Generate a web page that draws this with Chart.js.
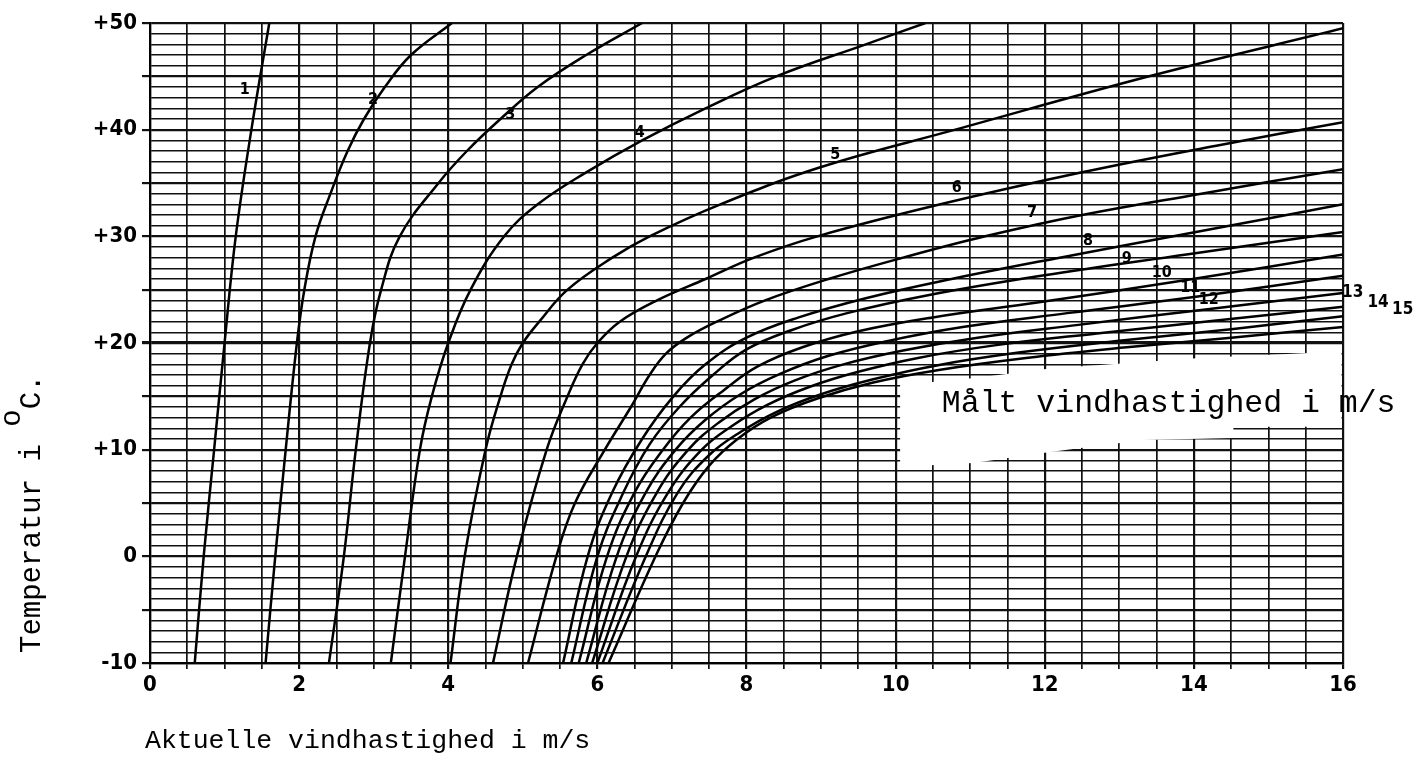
<!DOCTYPE html>
<html><head><meta charset="utf-8">
<script src="https://cdn.jsdelivr.net/npm/chart.js@4.4.1/dist/chart.umd.min.js"></script>
<style>html,body{margin:0;padding:0;background:#fff;}#wrap{width:1428px;height:768px;}</style>
</head><body><div id="wrap"><canvas id="c" width="1428" height="768"></canvas></div>
<script>
// ---- tick labels ----
const xTickValues = [0, 2, 4, 6, 8, 10, 12, 14, 16];
const yTickValues = [-10, 0, 10, 20, 30, 40, 50];
const yTickTexts  = ['-10', '0', '+10', '+20', '+30', '+40', '+50'];

// ---- curves: measured wind speed (m/s) -> actual speed (x) vs temperature (T) ----
const c1_T = [-10, 0, 10, 20, 30, 40, 50];
const c1_V = [0.6, 0.72, 0.86, 1.0, 1.15, 1.36, 1.6];
const c2_T = [-10, 0, 10, 20, 25, 30, 34, 38, 41, 44, 47, 50];
const c2_V = [1.55, 1.68, 1.82, 1.97, 2.07, 2.22, 2.42, 2.65, 2.87, 3.15, 3.5, 4.05];
const c3_T = [-10, 0, 10, 20, 25, 30, 35, 38, 41, 44, 47, 50];
const c3_V = [2.4, 2.6, 2.76, 2.95, 3.1, 3.35, 3.87, 4.25, 4.7, 5.2, 5.85, 6.6];
const c4_T = [-10, 0, 10, 15, 20, 25, 30, 33, 36, 39, 42, 45, 48, 50];
const c4_V = [3.23, 3.42, 3.62, 3.78, 4.0, 4.3, 4.75, 5.2, 5.85, 6.6, 7.45, 8.4, 9.6, 10.4];
const c5_T = [-10, 0, 10, 15, 18, 20, 22, 25, 28, 30, 33, 36.5, 40, 45, 49.5];
const c5_V = [4.03, 4.22, 4.5, 4.7, 4.85, 5.0, 5.22, 5.6, 6.2, 6.7, 7.65, 9.0, 10.8, 13.4, 16];
const c6_T = [-10, 0, 10, 15, 18, 20, 22, 24, 26, 28, 30, 33, 36, 38.5, 40.7];
const c6_V = [4.6, 4.92, 5.32, 5.6, 5.8, 6.0, 6.3, 6.8, 7.45, 8.1, 8.95, 10.6, 12.5, 14.3, 16];
const c7_T = [-10, 0, 5, 10, 14, 17, 19, 20.5, 22, 24, 26, 28, 30, 32, 34, 36.3];
const c7_V = [5.07, 5.45, 5.7, 6.1, 6.45, 6.7, 6.92, 7.2, 7.6, 8.25, 9.1, 10.1, 11.2, 12.5, 14.1, 16];
const c8_T = [-10, 0, 6, 11, 15, 18, 20.5, 22.4, 24.2, 26, 28, 30.5, 33];
const c8_V = [5.54, 5.87, 6.2, 6.6, 7.02, 7.45, 8.0, 8.7, 9.6, 10.75, 12.2, 14.1, 16];
const c9_T = [-10, 0, 6, 10.5, 14, 17, 19.4, 21.2, 22.8, 24.5, 26.3, 28.3, 30.4];
const c9_V = [5.65, 6.0, 6.35, 6.7, 7.1, 7.55, 8.0, 8.6, 9.35, 10.45, 11.95, 13.9, 16];
const c10_T = [-10, 0, 6, 10, 13, 15.6, 17.8, 19.6, 21.1, 22.4, 23.8, 25.9, 28.3];
const c10_V = [5.75, 6.13, 6.5, 6.88, 7.25, 7.7, 8.15, 8.75, 9.5, 10.5, 11.9, 13.9, 16];
const c11_T = [-10, 0, 6, 10, 12.8, 15.2, 17.1, 18.8, 20.2, 21.5, 22.8, 24.4, 26.3];
const c11_V = [5.85, 6.26, 6.65, 7.05, 7.45, 7.92, 8.45, 9.1, 9.9, 10.9, 12.3, 14.1, 16];
const c12_T = [-10, 0, 6, 10, 12.5, 14.7, 16.5, 18.0, 19.3, 20.5, 21.7, 23.1, 24.7];
const c12_V = [5.93, 6.39, 6.8, 7.22, 7.62, 8.1, 8.65, 9.3, 10.1, 11.1, 12.45, 14.1, 16];
const c13_T = [-10, 0, 6, 10, 12.2, 14.2, 15.9, 17.3, 18.6, 19.8, 20.9, 22.1, 23.4, 23.7];
const c13_V = [6.0, 6.52, 6.95, 7.4, 7.8, 8.28, 8.85, 9.5, 10.3, 11.35, 12.7, 14.3, 16, 16.3];
const c14_T = [-10, 0, 6, 9.5, 11.7, 13.6, 15.2, 16.6, 17.9, 19.1, 20.2, 21.3, 22.5, 22.9];
const c14_V = [6.07, 6.65, 7.08, 7.5, 7.93, 8.42, 9.0, 9.7, 10.55, 11.65, 13.0, 14.5, 16, 16.6];
const c15_T = [-10, 0, 5, 8.5, 11, 13.1, 14.8, 16.3, 17.5, 18.6, 19.6, 20.5, 21.5, 22.0];
const c15_V = [6.15, 6.78, 7.15, 7.5, 7.88, 8.35, 8.95, 9.7, 10.6, 11.75, 13.1, 14.5, 16, 16.9];

const curveNames = ['1','2','3','4','5','6','7','8','9','10','11','12','13','14','15'];
const curveTs = [c1_T,c2_T,c3_T,c4_T,c5_T,c6_T,c7_T,c8_T,c9_T,c10_T,c11_T,c12_T,c13_T,c14_T,c15_T];
const curveVs = [c1_V,c2_V,c3_V,c4_V,c5_V,c6_V,c7_V,c8_V,c9_V,c10_V,c11_V,c12_V,c13_V,c14_V,c15_V];

// ---- annotation anchors (data coordinates) ----
const labelX = [1.27, 2.99, 4.83, 6.57, 9.19, 10.82, 11.83, 12.58, 13.1, 13.57, 13.95, 14.2, 16.13, 16.47, 16.8];
const labelT = [43.7, 42.8, 41.4, 39.7, 37.6, 34.5, 32.2, 29.6, 27.9, 26.6, 25.2, 24.0, 24.7, 23.8, 23.1];
const boxX = [10.06, 11.06, 12.07, 14.08, 15.98, 15.98, 14.53, 14.53, 13.32, 12.07, 11.04, 10.06];
const boxT = [16.07, 16.73, 17.6, 18.6, 19.2, 12.14, 12.14, 11.1, 10.9, 9.79, 8.76, 8.39];

const MONO = "'Courier New', 'Liberation Mono', 'DejaVu Sans Mono', monospace";
const TICKFONT = "'DejaVu Sans Condensed', 'Liberation Sans Narrow', 'DejaVu Sans', sans-serif";

const datasets = curveTs.map((T, k) => ({
  label: curveNames[k],
  data: T.map((t, i) => ({x: curveVs[k][i], y: t})),
  showLine: true,
  borderColor: '#000',
  borderWidth: 2.5,
  pointRadius: 0,
  tension: 0.4,
  clip: k >= 12 ? {left: 0, top: 0, right: 90, bottom: 0} : 0
}));

const overlay = {
  id: 'overlay',
  beforeDatasetsDraw(chart) {
    const {ctx, scales: {x, y}} = chart;
    ctx.save();
    ctx.fillStyle = '#fff';
    ctx.beginPath();
    boxX.forEach((v, i) => {
      const px = x.getPixelForValue(v), py = y.getPixelForValue(boxT[i]);
      if (i) ctx.lineTo(px, py); else ctx.moveTo(px, py);
    });
    ctx.closePath();
    ctx.fill();
    ctx.restore();
  },
  afterDraw(chart) {
    const {ctx, scales: {x, y}} = chart;
    ctx.save();
    ctx.fillStyle = '#000';
    // box text
    ctx.font = '31.5px ' + MONO;
    ctx.textAlign = 'left';
    ctx.textBaseline = 'alphabetic';
    ctx.fillText('Målt vindhastighed i m/s', x.getPixelForValue(10.62), y.getPixelForValue(13.5));
    // curve labels
    ctx.textAlign = 'center';
    ctx.textBaseline = 'middle';
    curveNames.forEach((n, i) => {
      ctx.font = 'bold ' + (i >= 12 ? 17 : 16) + 'px ' + TICKFONT;
      ctx.fillText(n, x.getPixelForValue(labelX[i]), y.getPixelForValue(labelT[i]));
    });
    // x title
    ctx.font = '26.5px ' + MONO;
    ctx.textAlign = 'left';
    ctx.textBaseline = 'alphabetic';
    ctx.fillText('Aktuelle vindhastighed i m/s', 145, 748);
    // y title (rotated)
    ctx.translate(40, 653);
    ctx.rotate(-Math.PI / 2);
    ctx.font = '29px ' + MONO;
    const a = 'Temperatur i ';
    ctx.fillText(a, 0, 0);
    const w = ctx.measureText(a).width;
    ctx.fillText('o', w, -20);
    const wo = ctx.measureText('o').width;
    ctx.fillText('C.', w + wo, 0);
    ctx.restore();
  }
};

new Chart(document.getElementById('c'), {
  type: 'scatter',
  data: {datasets},
  options: {
    responsive: false,
    animation: false,
    layout: {padding: {left: 0, right: 85, top: 23, bottom: 0}},
    plugins: {legend: {display: false}, tooltip: {enabled: false}},
    scales: {
      x: {
        type: 'linear', min: 0, max: 16,
        afterFit(s) { s.height = 105; },
        afterBuildTicks(s) {
          const t = []; for (let v = 0; v <= 32; v++) t.push({value: v / 2}); s.ticks = t;
        },
        ticks: {
          autoSkip: false, maxRotation: 0, padding: 3, color: '#000',
          font: {family: TICKFONT, size: 22, weight: 'bold'},
          callback: v => xTickValues.includes(v) ? String(v) : ''
        },
        grid: {
          color: '#111', tickColor: '#111', tickLength: 6,
          lineWidth: c => (c.tick && c.tick.value % 2 === 0) ? 2.2 : 1.7
        },
        border: {display: true, color: '#000', width: 2.2}
      },
      y: {
        type: 'linear', min: -10, max: 50,
        afterFit(s) { s.width = 150; },
        afterBuildTicks(s) {
          const t = []; for (let v = -10; v <= 50; v++) t.push({value: v}); s.ticks = t;
        },
        ticks: {
          autoSkip: false, padding: 5, color: '#000',
          font: {family: TICKFONT, size: 22, weight: 'bold'},
          callback: v => { const i = yTickValues.indexOf(v); return i >= 0 ? yTickTexts[i] : ''; }
        },
        grid: {
          color: '#111', tickLength: 8,
          tickColor: c => (c.tick && c.tick.value % 5 === 0) ? '#111' : 'rgba(0,0,0,0)',
          lineWidth: c => {
            const v = c.tick ? c.tick.value : 0;
            if (v === 20) return 3.2;
            return v % 5 === 0 ? 2.2 : 1.5;
          }
        },
        border: {display: true, color: '#000', width: 2.2}
      }
    }
  },
  plugins: [overlay]
});
</script>
</body></html>
